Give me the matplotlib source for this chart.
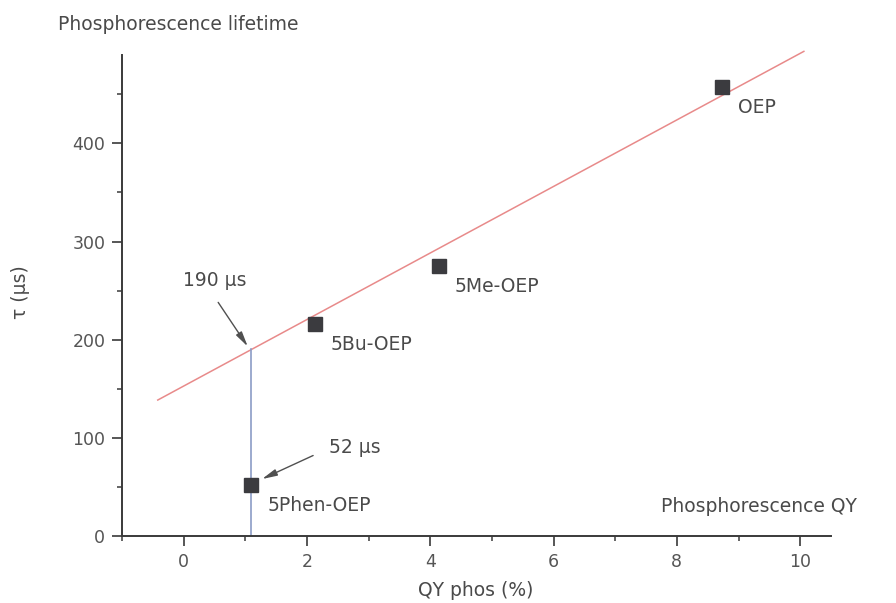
import matplotlib
matplotlib.use("Agg")
import matplotlib.pyplot as plt
from matplotlib.ticker import MultipleLocator

# Phosphorescence quantum yield vs. lifetime for the porphyrin series
compounds = ["5Phen-OEP", "5Bu-OEP", "5Me-OEP", "OEP"]
qy_percent = [1.1, 2.13, 4.14, 8.73]
lifetime_us = [52, 216, 275, 457]

# linear trend through the alkyl-substituted compounds
fit_x = [-0.42, 10.06]
fit_y = [138.5, 493.7]

expected_qy = 1.1
expected_tau = 190
measured_tau = 52

x_ticks = [0, 2, 4, 6, 8, 10]
y_ticks = [0, 100, 200, 300, 400]

plt.rcParams["font.family"] = ["DejaVu Sans"]
TEXT = "#4a4a4a"
AXIS = "#3a3a3a"
FS = 13.5

W, H = 896, 603
fig = plt.figure(figsize=(W / 100, H / 100), dpi=100)
ax = fig.add_axes([122 / W, 1 - 536 / H, (831 - 122) / W, (536 - 55) / H])

ax.set_xlim(-1, 10.5)
ax.set_ylim(0, 490)

# trend line and drop line
ax.plot(fit_x, fit_y, color="#e88a8a", lw=1.1, clip_on=False, zorder=2)
ax.plot([expected_qy, expected_qy], [0, expected_tau], color="#8b9cc6",
        lw=1.2, zorder=2)

# data points
ax.plot(qy_percent, lifetime_us, ls="none", marker="s", ms=10.5,
        color="#3b3b3f", zorder=4)

for name, x, y in zip(compounds, qy_percent, lifetime_us):
    ax.annotate(name, (x, y), xytext=(11.5, -14.5), textcoords="offset points",
                ha="left", va="center", fontsize=FS, color=TEXT)

# value call-outs
arrow = dict(arrowstyle="-|>,head_length=0.9,head_width=0.2", color="#505050",
             lw=1.0, shrinkA=0, shrinkB=0)
ax.text(0.50, 260, f"{expected_tau} µs", ha="center", va="center",
        fontsize=FS, color=TEXT)
ax.annotate("", xy=(1.04, expected_tau + 3), xytext=(0.56, 238),
            arrowprops=arrow)
ax.text(2.78, 90, f"{measured_tau} µs", ha="center", va="center",
        fontsize=FS, color=TEXT)
ax.annotate("", xy=(1.27, measured_tau + 6), xytext=(2.10, 82),
            arrowprops=arrow)

# axes styling
for side in ("top", "right"):
    ax.spines[side].set_visible(False)
for side in ("left", "bottom"):
    ax.spines[side].set_color(AXIS)
    ax.spines[side].set_linewidth(1.4)

ax.set_xticks(x_ticks)
ax.set_yticks(y_ticks)
ax.xaxis.set_minor_locator(MultipleLocator(1))
ax.yaxis.set_minor_locator(MultipleLocator(50))
ax.tick_params(which="major", direction="out", length=7, width=1.2,
               color=AXIS, labelsize=12.5, labelcolor="#555555", pad=5)
ax.tick_params(which="minor", direction="out", length=3.5, width=1.1,
               color=AXIS)

ax.set_xlabel("QY phos (%)", fontsize=FS, color=TEXT, va="center")
ax.xaxis.set_label_coords((476 - 122) / (831 - 122), -(590 - 536) / (536 - 55))
fig.text(21 / W, 1 - 292 / H, "τ (µs)", rotation=90, ha="center",
         va="center", fontsize=FS, color=TEXT)

fig.text(178 / W, 1 - 24 / H, "Phosphorescence lifetime", ha="center",
         va="center", fontsize=FS, color=TEXT)
fig.text(759 / W, 1 - 507 / H, "Phosphorescence QY", ha="center",
         va="center", fontsize=FS, color=TEXT)

fig.savefig("out.png", dpi=100, facecolor="white")
